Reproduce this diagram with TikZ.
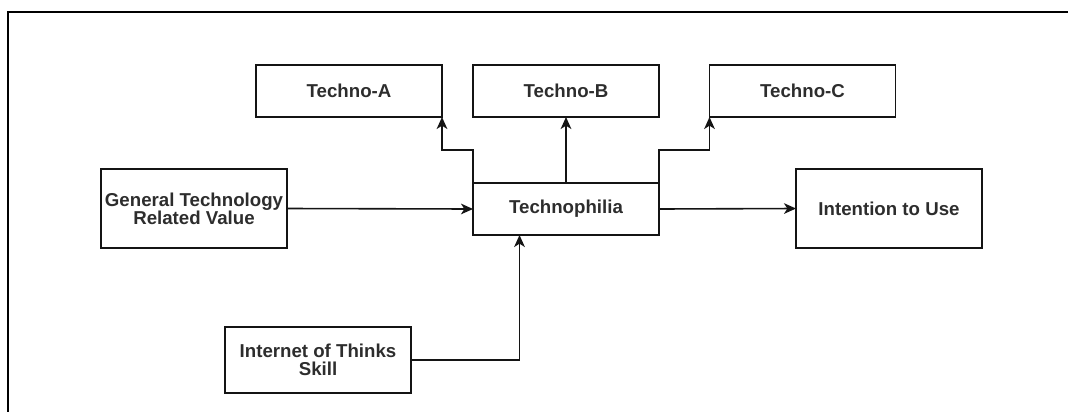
\documentclass[tikz,border=0pt]{standalone}
\usepackage{fontspec}
\setmainfont{Liberation Sans}
\usetikzlibrary{arrows.meta,calc}
\definecolor{linecol}{RGB}{20,20,20}
\definecolor{textcol}{RGB}{45,45,45}
\tikzset{
  box/.style={draw=linecol, line width=1.2pt, rectangle, inner sep=0pt, outer sep=0pt,
    minimum width=139.5pt, align=center, text=textcol,
    font=\bfseries\fontsize{14pt}{13.4pt}\selectfont},
  short/.style={box, minimum height=39pt},
  tall/.style={box, minimum height=59.25pt},
  mid/.style={box, minimum height=49.5pt},
  arr/.style={draw=linecol, line width=1.2pt, -{Stealth[length=9pt,width=8pt,inset=2.5pt]}},
  frame/.style={draw=black, line width=1.5pt}
}
\begin{document}
\begin{tikzpicture}[x=0.75pt,y=-0.75pt]
\useasboundingbox (0,0) rectangle (1068,412);
\draw[frame] (1068,12) -- (8,12) -- (8,412);
\node[short] (TA) at (349,91) {Techno-A};
\node[short] (TB) at (566,91) {Techno-B};
\node[short] (TC) at (802.5,91) {Techno-C};
\node[short] (TP) at (566,209) {Technophilia};
\node[tall] (GT) at (194,208.5) {General Technology\\Related Value};
\node[tall] (IU) at (889,208.5) {Intention to Use};
\node[mid] (IT) at (318,360) {Internet of Thinks\\Skill};
\coordinate (ka) at (473,150);
\coordinate (kc) at (659,150);
\draw[arr] (TP.north west) -- (ka) -| (TA.south east);
\draw[arr] (TP.north) -- (TB.south);
\draw[arr] (TP.north east) -- (kc) -| (TC.south west);
\draw[arr] (GT.east) -- (TP.west);
\draw[arr] (TP.east) -- (IU.west);
\draw[arr] (IT.east) -| ($(TP.south west)!0.25!(TP.south east)$);
\end{tikzpicture}
\end{document}
